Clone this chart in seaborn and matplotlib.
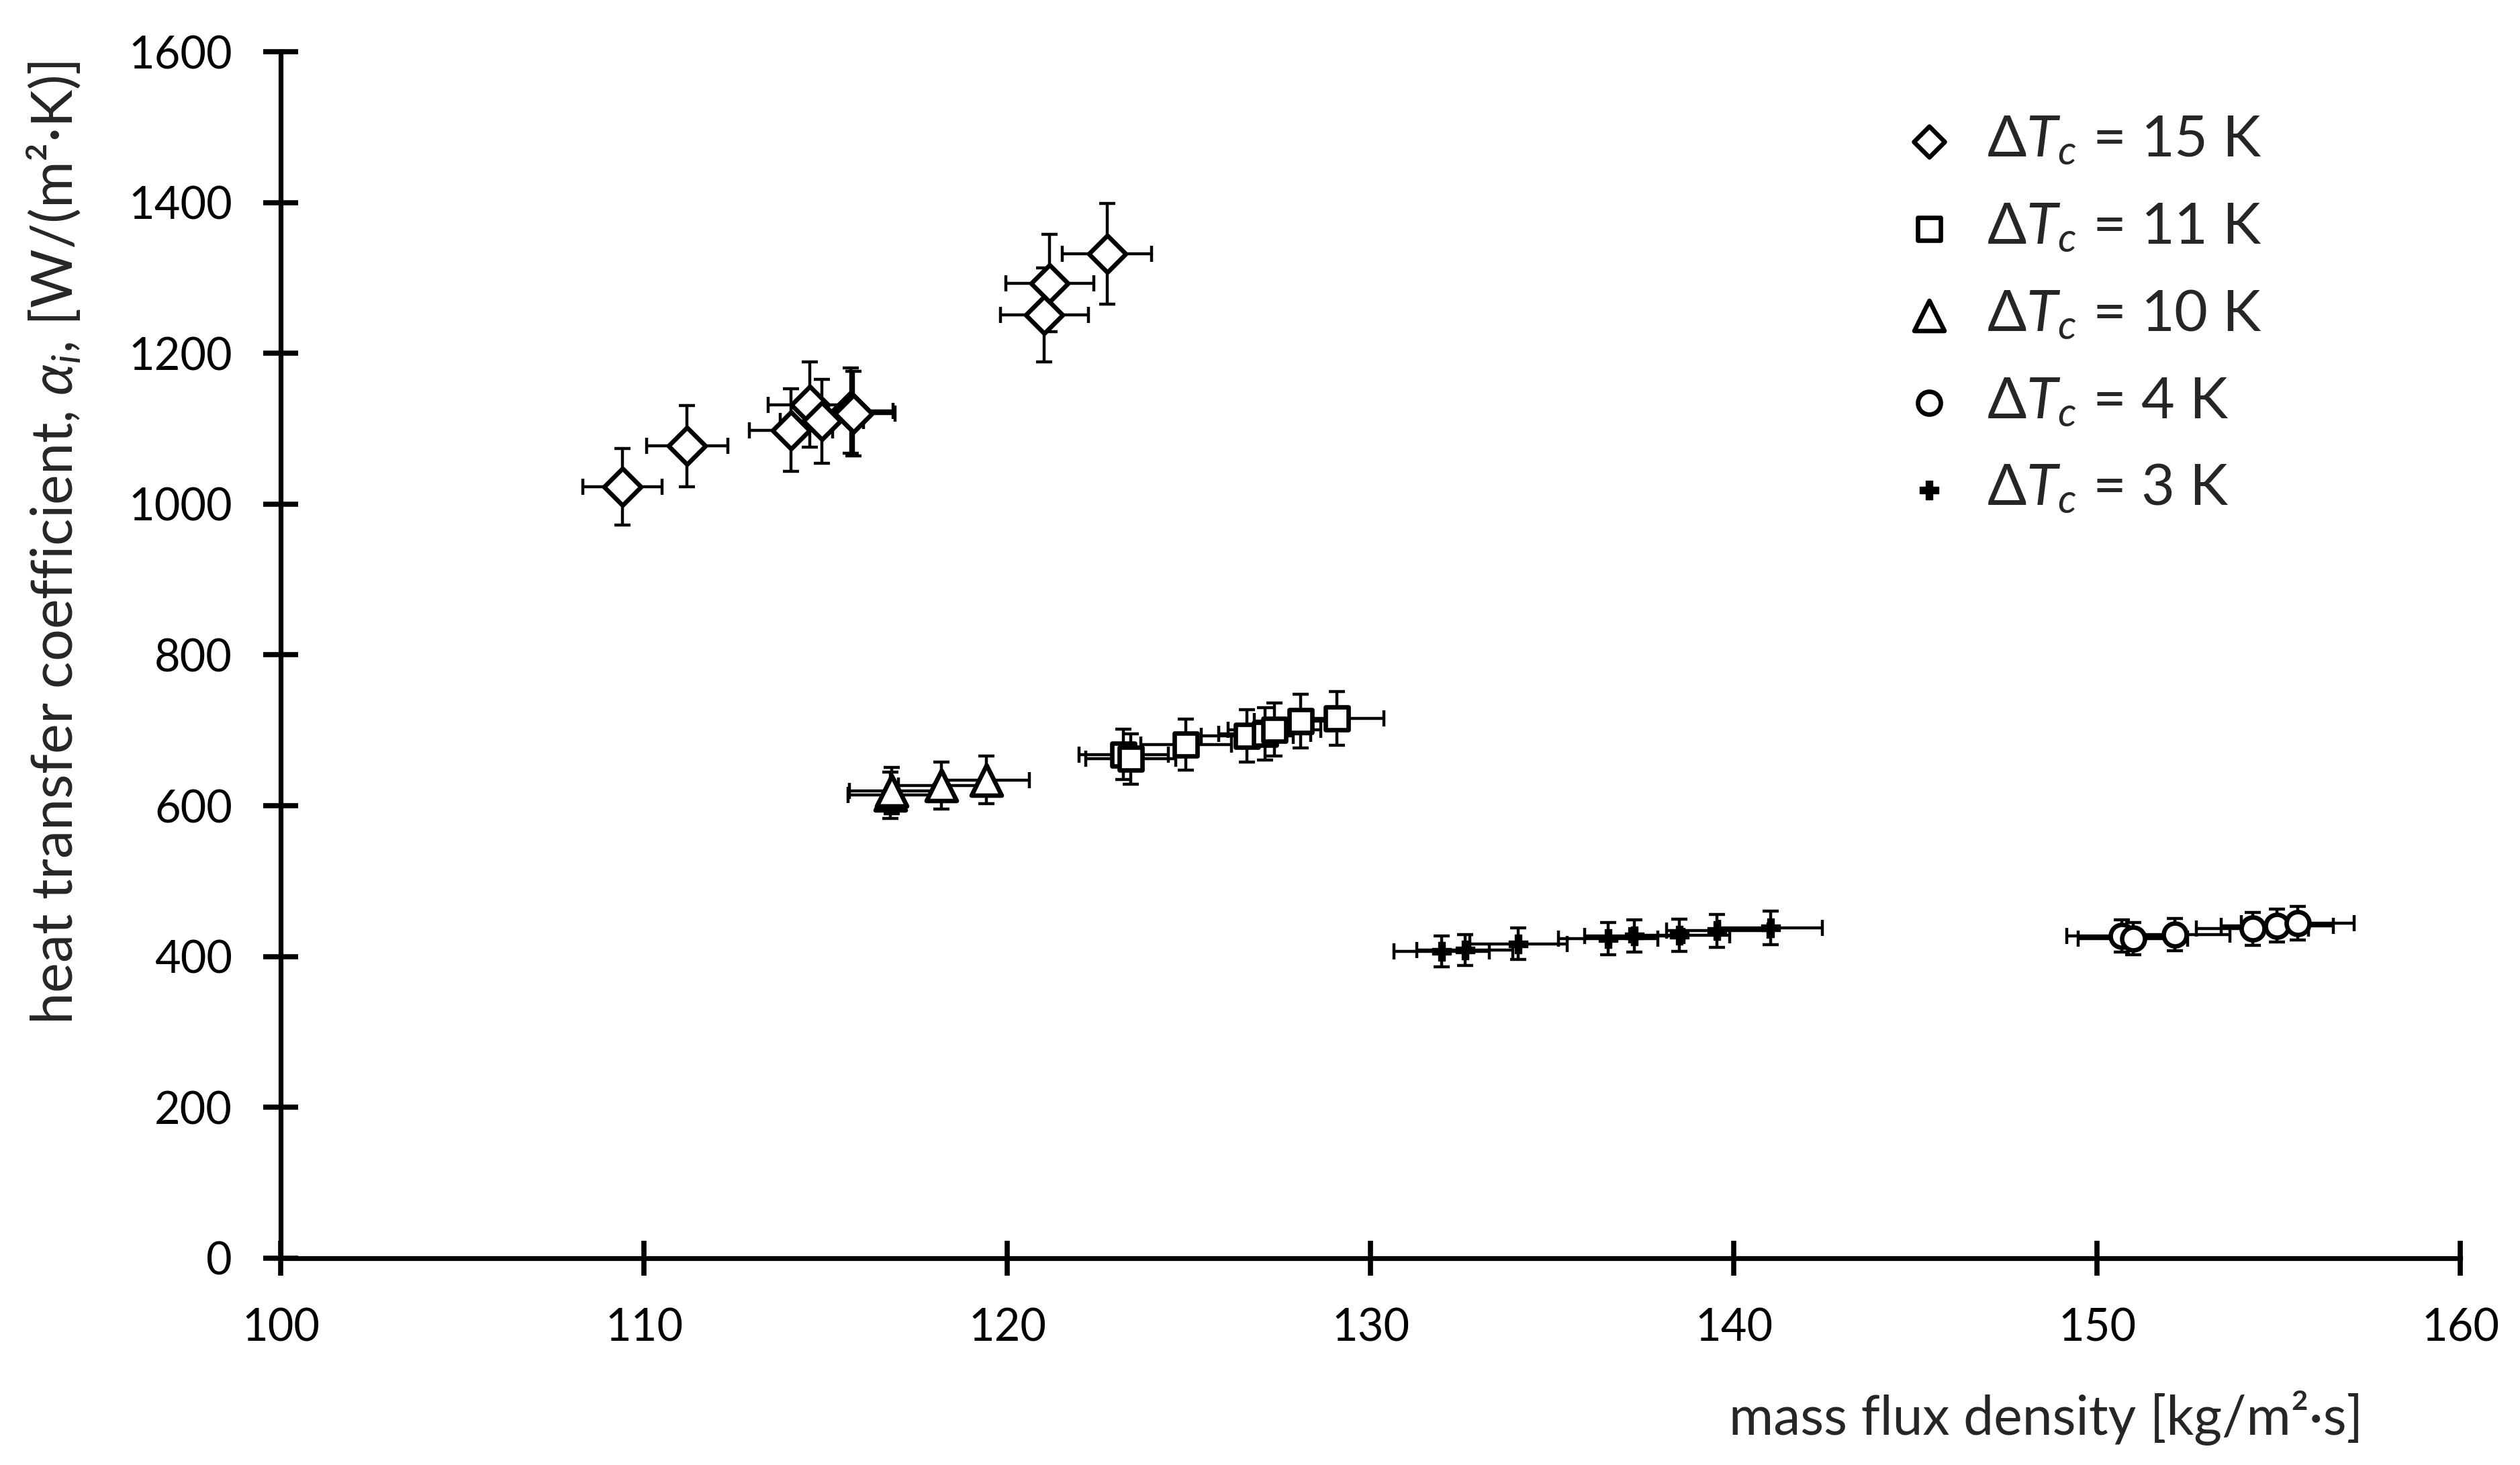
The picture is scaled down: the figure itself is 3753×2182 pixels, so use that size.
import numpy as np
import pandas as pd
import seaborn as sns
import matplotlib
matplotlib.use("Agg")
import matplotlib.pyplot as plt

# values
# mass flux density G [kg/m2 s] and heat transfer coefficient alpha [W/(m2 K)]
g15 = [109.41, 111.19, 114.05, 114.56, 114.90, 115.70, 115.76, 121.02, 121.17, 122.75]
a15 = [1023, 1077, 1098, 1132, 1110, 1124, 1120, 1251, 1293, 1332]
g11 = [123.20, 123.40, 124.92, 126.60, 127.09, 127.36, 128.08, 129.07]
a11 = [668, 662, 681, 693, 695, 701, 712, 716]
g10 = [116.78, 116.82, 118.18, 119.42]
a10 = [614, 620, 627, 634]
g4 = [150.68, 150.99, 152.14, 154.28, 154.96, 155.52]
a4 = [427, 424, 429, 437, 441, 444]
g3 = [131.96, 132.60, 134.07, 136.54, 137.26, 138.51, 139.54, 141.02]
a3 = [407, 409, 417, 424, 427, 428, 434, 438]

series_names = ["15 K", "11 K", "10 K", "4 K", "3 K"]
x_err_rel = 0.01   # +-1 % on G
y_err_rel = 0.05   # +-5 % on alpha

x_ticks = [100, 110, 120, 130, 140, 150, 160]
y_ticks = [0, 200, 400, 600, 800, 1000, 1200, 1400, 1600]

#build one long table
frames = []
for name, g, a in zip(series_names, [g15, g11, g10, g4, g3], [a15, a11, a10, a4, a3]):
    frames.append(pd.DataFrame({"G": g, "alpha": a, "series": name}))
df = pd.concat(frames, ignore_index=True)

sns.set_style("ticks")
plt.rcParams["font.family"] = ["Lato", "DejaVu Sans"]
plt.rcParams["mathtext.fontset"] = "custom"
plt.rcParams["mathtext.rm"] = "Lato"
plt.rcParams["mathtext.it"] = "Lato:italic"
plt.rcParams["mathtext.bf"] = "Lato:bold"

fig = plt.figure(figsize=(37.53, 21.82), dpi=100)
ax = fig.add_axes([0.1114, 0.1412, 0.8649, 0.8235])

# marker, size (pt^2), face colour
styles = {
    "15 K": ("D", 784, "white"),
    "11 K": ("s", 630, "white"),
    "10 K": ("^", 1050, "white"),
    "4 K": ("o", 600, "white"),
    "3 K": ("P", 420, "black"),
}

#error bars first so the markers sit on top
for name in series_names:
    sub = df[df["series"] == name]
    ax.errorbar(sub["G"], sub["alpha"], xerr=sub["G"] * x_err_rel, yerr=sub["alpha"] * y_err_rel,
                fmt="none", ecolor="black", elinewidth=3.2, capsize=8.5, capthick=3.2, zorder=2)

for name in series_names:
    sub = df[df["series"] == name]
    m, s, fc = styles[name]
    sns.scatterplot(data=sub, x="G", y="alpha", marker=m, s=s, color=fc, edgecolor="black",
                    linewidth=4.8 if m != "P" else 1.0, label=r"$\Delta T_c$ = " + name,
                    ax=ax, zorder=3)

ax.set_xlim(100, 160)
ax.set_ylim(0, 1600)
ax.set_xticks(x_ticks)
ax.set_yticks(y_ticks)
ax.set_xlabel("")
ax.set_ylabel("")
sns.despine(ax=ax)
for sp in ["left", "bottom"]:
    ax.spines[sp].set_linewidth(5.2)
    ax.spines[sp].set_color("black")
ax.tick_params(direction="inout", length=38, width=5.5, colors="black", labelsize=48)
ax.tick_params(axis="x", pad=34)
ax.tick_params(axis="y", pad=33)

leg = ax.legend(loc="upper left", bbox_to_anchor=(0.743, 0.948), frameon=False, fontsize=62,
                handlelength=1.0, handletextpad=0.5, labelspacing=0.6, borderpad=0,
                borderaxespad=0, scatterpoints=1)
leg.legend_handles[0].set_sizes([548])

fig.text(0.8119, 0.0206, "mass flux density [kg/m²·s]", ha="center", va="baseline", fontsize=58)
fig.text(0.0288, 0.6297, r"heat transfer coefficient, $\alpha_i$, [W/(m²·K)]", rotation=90,
         rotation_mode="anchor", ha="center", va="baseline", fontsize=61)

fig.savefig("out.png", dpi=100, facecolor="white")
